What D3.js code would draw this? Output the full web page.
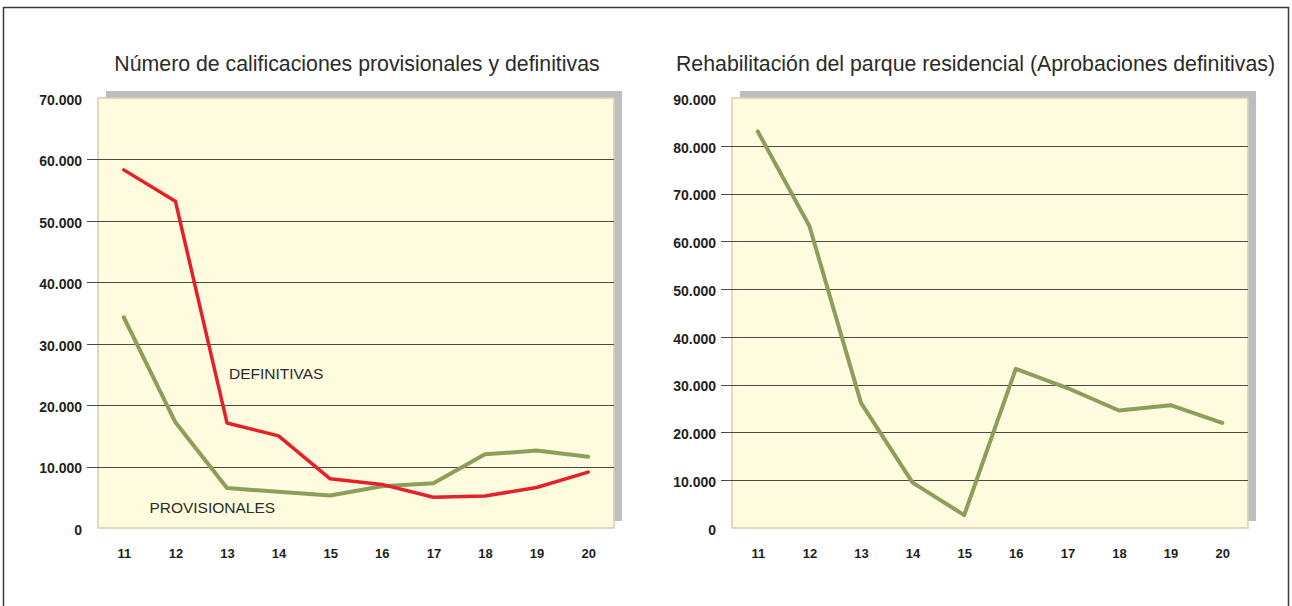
<!DOCTYPE html>
<html>
<head>
<meta charset="utf-8">
<script src="https://cdn.jsdelivr.net/npm/d3@7"></script>
<style>
  html, body { margin: 0; padding: 0; background: #fff; }
  svg { display: block; font-family: 'Liberation Sans', Arial, sans-serif; }
</style>
</head>
<body>
<div id="chart"></div>
<script>
// ── DATA ─────────────────────────────────────────────────────────────────────
const YEARS = ['11', '12', '13', '14', '15', '16', '17', '18', '19', '20'];

const DEFINITIVAS   = [58300, 53200, 17100, 15000, 8000, 7100, 5000, 5200, 6600, 9100];
const PROVISIONALES = [34300, 17200, 6500, 5900, 5300, 6800, 7300, 12000, 12600, 11600];
const REHABILITACION = [83000, 63200, 26200, 9500, 2700, 33300, 29300, 24600, 25700, 22000];

const LEFT_TICKS  = [0, 10000, 20000, 30000, 40000, 50000, 60000, 70000];
const RIGHT_TICKS = [0, 10000, 20000, 30000, 40000, 50000, 60000, 70000, 80000, 90000];

const LEFT_TITLE  = 'Número de calificaciones provisionales y definitivas';
const RIGHT_TITLE = 'Rehabilitación del parque residencial (Aprobaciones definitivas)';

// ── CONFIG ───────────────────────────────────────────────────────────────────
const RED    = '#e6202a';
const OLIVE  = '#8d9e5b';
const PLOT_BG     = '#fefbdf';
const PLOT_BORDER = '#d3cfb2';
const SHADOW      = '#bcbdc1';
const GRID        = '#4a4a48';
const TEXT        = '#231f20';

const W = 1292, H = 606;

const svg = d3.select('#chart')
  .append('svg')
    .attr('width', W)
    .attr('height', H);

// outer frame
svg.append('rect')
  .attr('x', 3.5).attr('y', 7.5)
  .attr('width', 1285).attr('height', 606)
  .attr('fill', '#fff')
  .attr('stroke', '#3a3a3a')
  .attr('stroke-width', 1.5);

// thousands with a dot, like "70.000"
const fmt = d => d === 0 ? '0' : d3.format(',')(d).replace(/,/g, '.');

// ── PANEL ────────────────────────────────────────────────────────────────────
function drawPanel(opts) {
  const { left, right, top, bottom, max, ticks, title, titleX, series, labels } = opts;

  const g = svg.append('g');

  const x = d3.scalePoint().domain(YEARS).range([left, right]).padding(0.5);
  const y = d3.scaleLinear().domain([0, max]).range([bottom, top]);

  // shadow behind the plot area
  g.append('rect')
    .attr('x', left + 8).attr('y', top - 7)
    .attr('width', right - left).attr('height', bottom - top)
    .attr('fill', SHADOW);

  g.append('rect')
    .attr('x', left).attr('y', top)
    .attr('width', right - left).attr('height', bottom - top)
    .attr('fill', PLOT_BG)
    .attr('stroke', PLOT_BORDER)
    .attr('stroke-width', 1.5);

  // gridlines (not at 0 nor at the top)
  g.selectAll('.grid')
    .data(ticks.filter(t => t > 0 && t < max))
    .join('line')
      .attr('class', 'grid')
      .attr('x1', left - 11).attr('x2', right)
      .attr('y1', d => Math.round(y(d)) + 0.5)
      .attr('y2', d => Math.round(y(d)) + 0.5)
      .attr('stroke', GRID)
      .attr('stroke-width', 1);

  // y axis labels
  const yAxis = g.append('g')
    .attr('transform', `translate(${left - 16},0)`)
    .call(d3.axisLeft(y).tickValues(ticks).tickFormat(fmt).tickSize(0).tickPadding(0));
  yAxis.select('.domain').remove();
  yAxis.selectAll('text')
    .attr('font-family', "'Liberation Sans', Arial, sans-serif")
    .attr('font-size', '14px')
    .attr('font-weight', 'bold')
    .attr('fill', TEXT)
    .attr('dy', '0.45em');

  // x axis labels
  const xAxis = g.append('g')
    .attr('transform', `translate(0,${bottom + 21})`)
    .call(d3.axisBottom(x).tickSize(0).tickPadding(0));
  xAxis.select('.domain').remove();
  xAxis.selectAll('text')
    .attr('font-family', "'Liberation Sans', Arial, sans-serif")
    .attr('font-size', '13px')
    .attr('font-weight', 'bold')
    .attr('fill', TEXT);

  // lines
  const line = d3.line()
    .x((d, i) => x(YEARS[i]))
    .y(d => y(d));

  series.forEach(s => {
    g.append('path')
      .attr('d', line(s.values))
      .attr('fill', 'none')
      .attr('stroke', s.color)
      .attr('stroke-width', s.width)
      .attr('stroke-linejoin', 'round')
      .attr('stroke-linecap', 'round');
  });

  // series labels
  (labels || []).forEach(l => {
    g.append('text')
      .attr('x', x(l.year) + l.dx)
      .attr('y', y(l.value))
      .attr('font-size', '15.5px')
      .attr('fill', '#2b2b2b')
      .text(l.text);
  });

  // title
  svg.append('text')
    .attr('x', titleX)
    .attr('y', 71)
    .attr('text-anchor', 'middle')
    .attr('font-size', '21.3px')
    .attr('fill', '#2b2b2b')
    .text(title);
}

drawPanel({
  left: 98, right: 614, top: 98, bottom: 528,
  max: 70000, ticks: LEFT_TICKS,
  title: LEFT_TITLE, titleX: 357,
  series: [
    { values: PROVISIONALES, color: OLIVE, width: 4 },
    { values: DEFINITIVAS,   color: RED,   width: 3.5 }
  ],
  labels: [
    { text: 'DEFINITIVAS',   year: '13', value: 24250, dx: 2 },
    { text: 'PROVISIONALES', year: '12', value: 2500,  dx: -26 }
  ]
});

drawPanel({
  left: 732, right: 1248, top: 98, bottom: 528,
  max: 90000, ticks: RIGHT_TICKS,
  title: RIGHT_TITLE, titleX: 975.5,
  series: [
    { values: REHABILITACION, color: OLIVE, width: 4 }
  ]
});
</script>
</body>
</html>
